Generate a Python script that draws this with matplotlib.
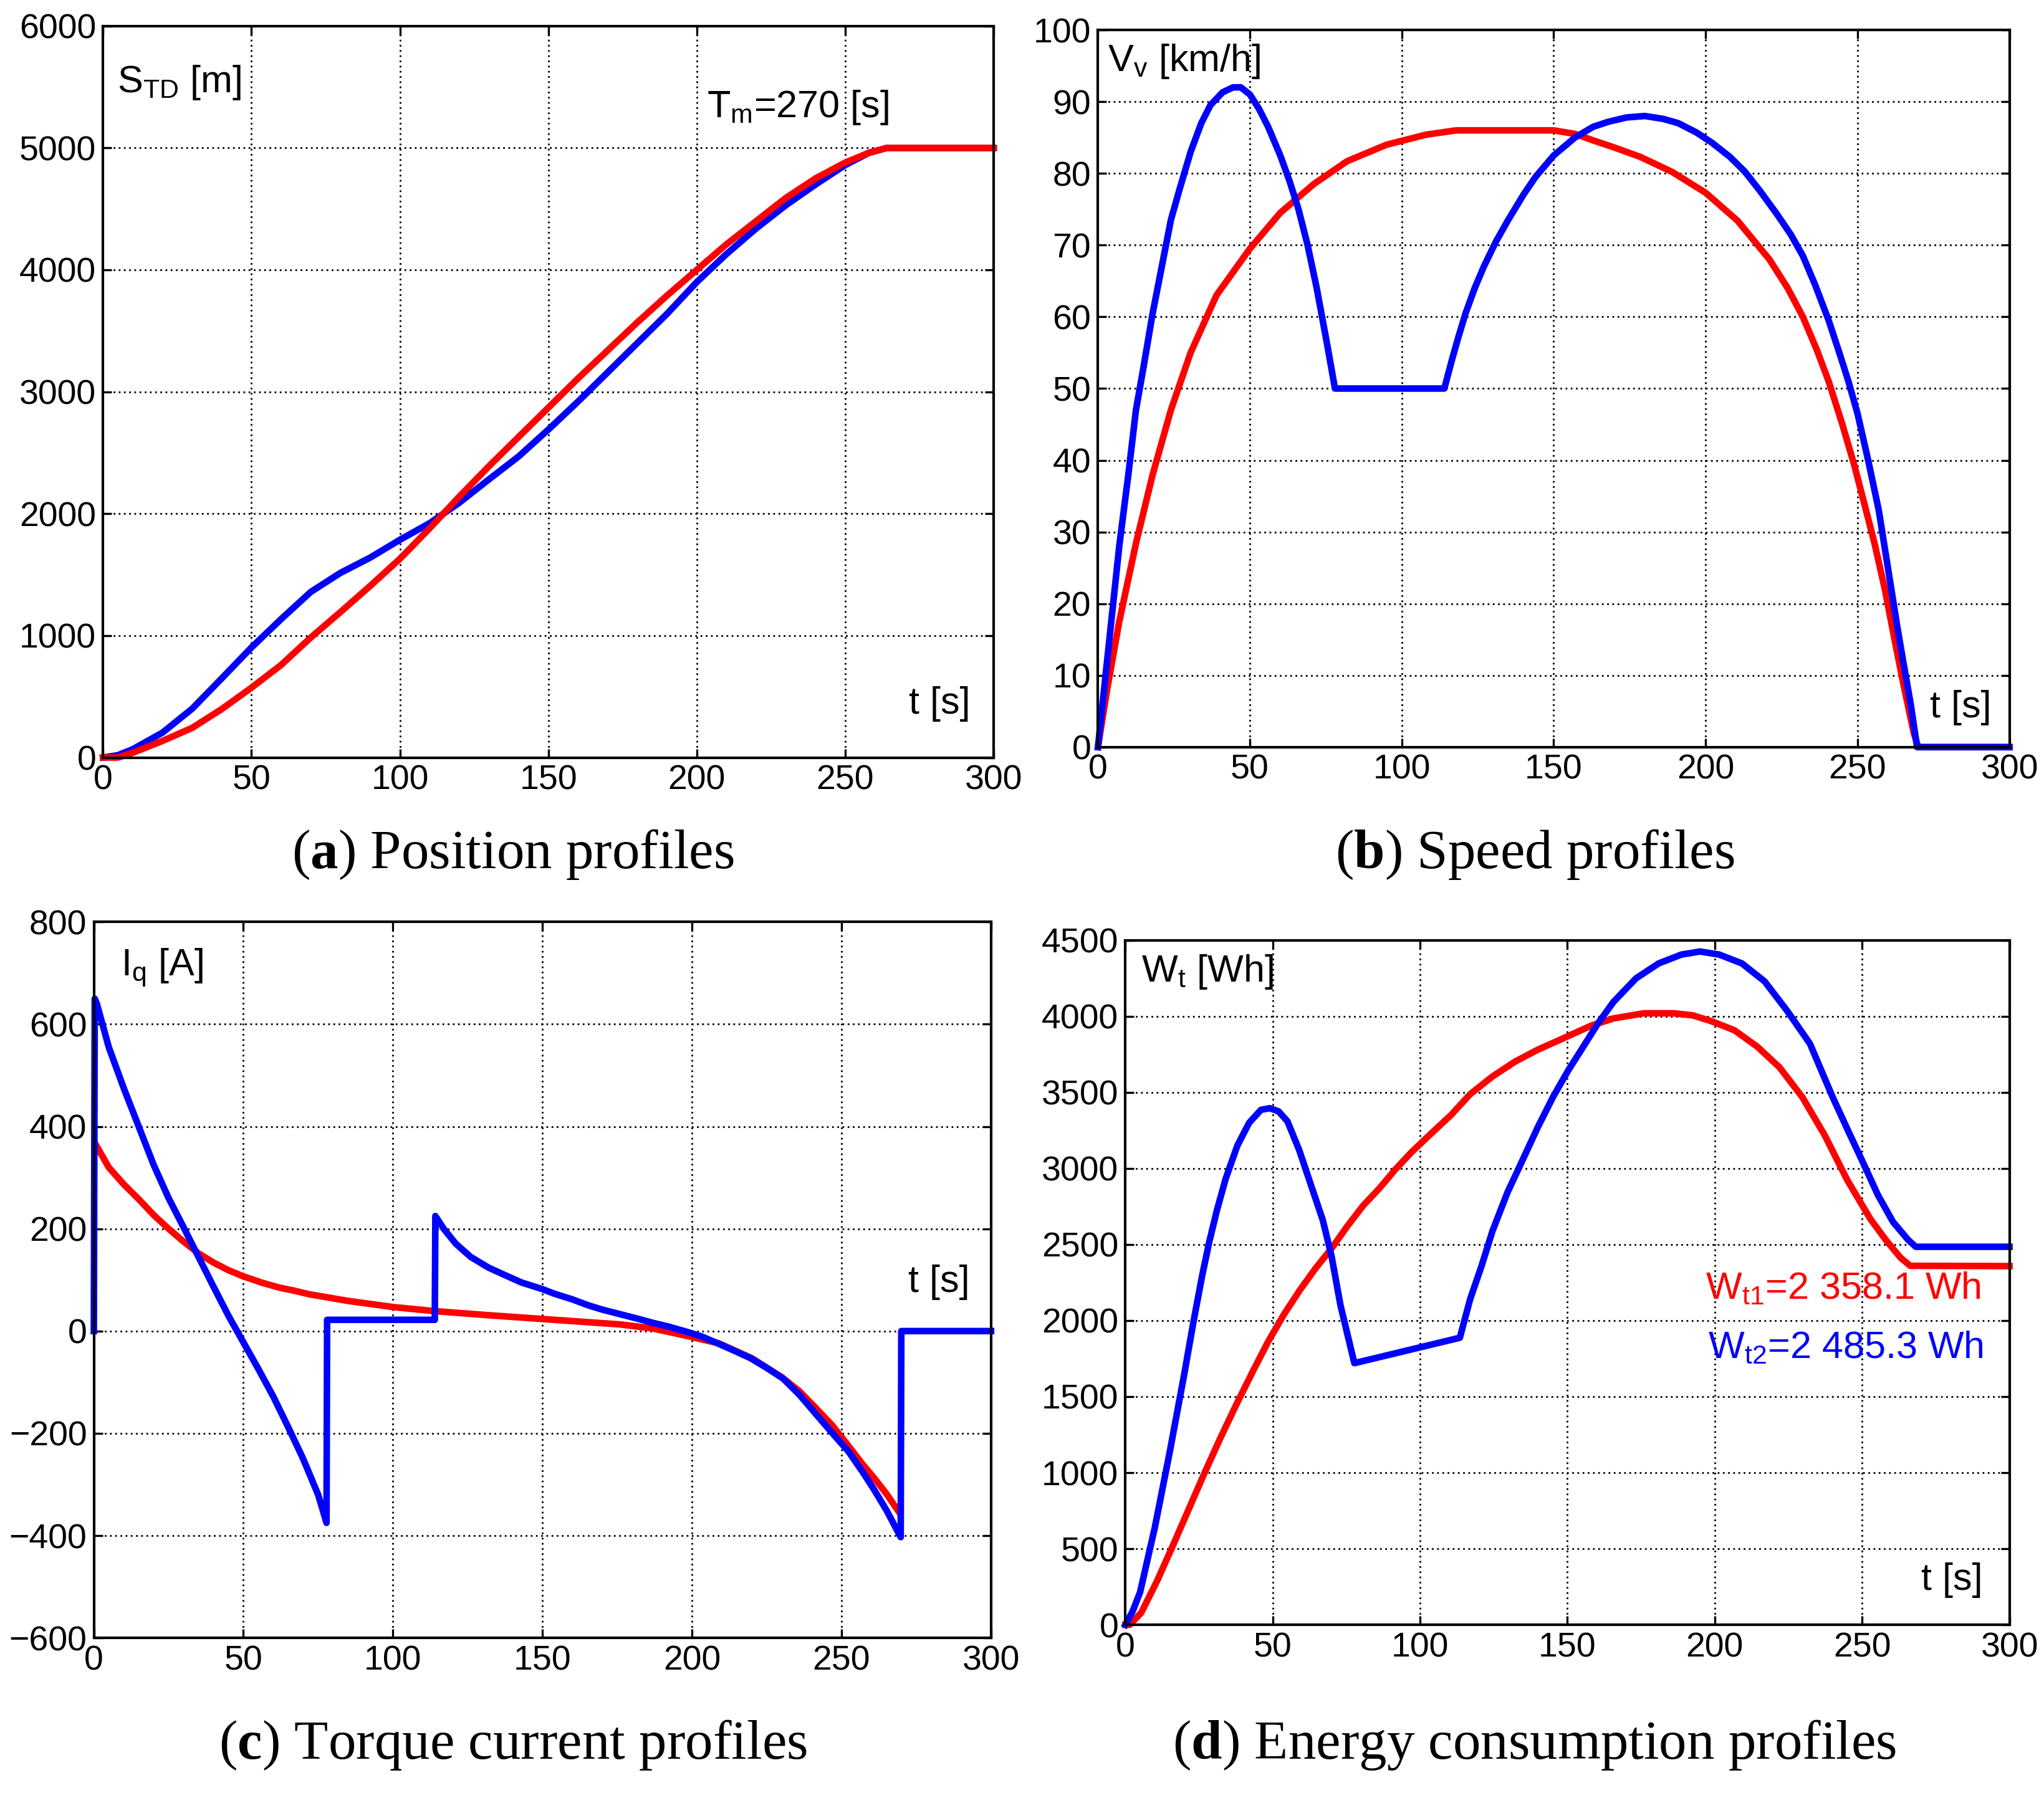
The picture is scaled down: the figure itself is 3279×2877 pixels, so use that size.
import matplotlib
matplotlib.use("Agg")
import matplotlib.pyplot as plt

plt.rcParams["font.family"] = ["Liberation Sans", "DejaVu Sans"]
plt.rcParams["mathtext.fontset"] = "custom"
plt.rcParams["mathtext.rm"] = "Liberation Sans"
plt.rcParams["mathtext.bf"] = "Liberation Serif:bold"

RED = "#ff0000"
BLUE = "#0000ff"

# (a) position profiles
t_pos = [0, 5, 10, 20, 30, 40, 50, 60, 70, 80, 90, 100, 110, 120, 130, 140, 150,
         160, 170, 180, 190, 200, 210, 220, 230, 240, 250, 258, 264, 300]
pos_red = [0, 0, 39, 136, 243, 398, 573, 760, 985, 1194, 1408, 1630, 1880, 2140, 2390,
           2630, 2870, 3110, 3340, 3570, 3790, 4000, 4210, 4400, 4590, 4750, 4880, 4960, 5000, 5000]
pos_blue = [0, 19, 68, 204, 400, 650, 903, 1136, 1359, 1515, 1640, 1786, 1922, 2090, 2282,
            2470, 2690, 2920, 3160, 3400, 3640, 3900, 4130, 4340, 4530, 4700, 4860, 4960, 5000, 5000]

# (b) speed profiles
t_spd_red = [0, 3, 7, 12.5, 18, 24, 30.5, 39, 50, 60, 71, 82, 95, 108, 118, 150, 157, 163,
             170, 178.5, 189, 200, 210.5, 221, 227, 232, 236.5, 240.5, 245, 249, 252.5,
             255.6, 259, 262, 265, 268.5, 270, 300]
spd_red = [0, 8, 17.5, 28.4, 38, 47, 55, 63, 69.5, 74.5, 78.5, 81.7, 84, 85.4, 86, 86, 85.5,
           84.6, 83.6, 82.3, 80.2, 77.3, 73.4, 68, 64, 60, 55.5, 51, 45, 39.2, 33.5, 28.4,
           22, 15.4, 9, 2, 0, 0]
t_spd_blue = [0, 2, 4, 7, 10, 12.5, 15, 18, 21, 24, 27, 30.5, 34, 37, 41, 44.5, 47, 50, 53,
              56, 60, 63, 66, 69, 72, 75.5, 78, 114, 116.5, 118.5, 121, 124, 127, 131, 135,
              140, 144, 150, 157, 163, 168, 174, 180, 186, 191, 197, 202, 208, 213, 218,
              223.5, 228, 232, 236, 240.5, 244, 247, 250, 253.5, 257, 260, 263, 265, 267.5,
              269.6, 300]
spd_blue = [0, 8, 16, 28, 38, 47, 53, 60.5, 67, 73.5, 78, 83, 87, 89.5, 91.3, 92, 92, 91, 89,
            86.5, 82.5, 79, 75, 70, 64, 56, 50, 50, 54, 57, 60.5, 64, 67, 70.5, 73.5, 77,
            79.5, 82.5, 85, 86.5, 87.2, 87.8, 88, 87.6, 87, 85.7, 84.3, 82.3, 80.2, 77.5,
            74.3, 71.5, 68.5, 64.5, 59.5, 55, 51, 46.5, 40, 33, 25, 17, 12, 6, 0, 0]

# (c) torque current profiles
t_iq_red = [0.5, 5, 10, 15, 20, 25, 30, 35, 40, 45, 50, 56, 62, 67, 72, 78, 85, 90, 100,
            114, 132, 154, 176, 187, 198, 209, 220, 230, 236, 241, 247, 252, 257, 261, 265, 269]
iq_red = [366, 320, 287, 258, 227, 200, 175, 152, 134, 119, 107, 95, 85, 79, 72, 66, 59, 55,
          47, 39, 31, 22, 13, 5, -9, -24, -53, -90, -118, -148, -185, -222, -260, -288, -318, -352]
t_iq_blue = [0, 0.3, 1, 5, 10, 15, 20, 25, 30, 35, 40, 45, 50, 55, 60, 65, 70, 75, 77.8, 78,
             114, 114.2, 117, 121, 126, 132, 138, 143, 150, 154, 160, 165, 170, 176, 182,
             187, 192, 198, 203, 208.6, 214, 219.6, 225, 230.5, 236, 241.4, 247, 252.4, 257,
             261, 265, 269.8, 270, 300]
iq_blue = [0, 650, 640, 555, 475, 400, 325, 260, 203, 145, 87, 30, -22, -74, -128, -188,
           -250, -320, -375, 22, 22, 225, 200, 171, 145, 124, 108, 95, 82, 73, 62, 51, 42, 33,
           24, 16, 9, -1, -10, -24, -38, -53, -72, -93, -125, -162, -200, -236, -275, -311,
           -350, -403, 0, 0]

# (d) energy consumption profiles
t_w_red = [0, 1.5, 5.4, 10.8, 16.1, 21.5, 26.9, 32.3, 37.7, 43.1, 48.4, 53.8, 59.2, 64.6, 70,
           75.3, 80.7, 86.1, 91.5, 96.9, 104, 110.5, 117, 124.6, 132.3, 140, 149, 158, 165.6,
           176, 186, 192.6, 199, 206.7, 214.4, 222, 229.7, 237.4, 245, 252.8, 258, 263,
           266.3, 300]
w_red = [0, 0, 80, 290, 520, 760, 1000, 1230, 1450, 1660, 1860, 2040, 2200, 2345, 2475, 2620,
         2756, 2867, 2991, 3103, 3234, 3351, 3488, 3605, 3703, 3781, 3859, 3938, 3986, 4020,
         4020, 4006, 3967, 3908, 3801, 3664, 3469, 3215, 2922, 2668, 2531, 2414, 2360, 2358]
t_w_blue = [0, 2.5, 5, 10, 15, 20, 23, 26, 28.5, 31, 34, 38, 42, 46, 49, 52, 55, 59, 63, 67,
            70, 73, 77.7, 113.5, 117, 120.8, 124.6, 129.7, 134.9, 140, 145.1, 150.3, 155.4,
            160.5, 165.6, 173.3, 181, 188.7, 195, 201.5, 209.2, 216.9, 224.6, 232.3, 240,
            245.1, 250.3, 255.4, 260.5, 265.6, 268.2, 300]
w_blue = [0, 90, 215, 640, 1130, 1650, 1980, 2290, 2520, 2720, 2930, 3150, 3300, 3385, 3396,
          3375, 3310, 3120, 2890, 2660, 2420, 2100, 1720, 1887, 2141, 2355, 2590, 2844, 3060,
          3273, 3469, 3645, 3801, 3957, 4094, 4250, 4348, 4406, 4426, 4406, 4348, 4230, 4035,
          3820, 3469, 3254, 3039, 2824, 2648, 2531, 2485, 2485]

x_ticks = [0, 50, 100, 150, 200, 250, 300]

fig = plt.figure(figsize=(16.4, 14.385), dpi=200)

rects = {
    "a": [0.0504, 0.5775, 0.4356, 0.4080],
    "b": [0.5370, 0.5833, 0.4458, 0.4000],
    "c": [0.0459, 0.0865, 0.4388, 0.3993],
    "d": [0.5504, 0.0938, 0.4324, 0.3818],
}


def setup(ax, ylim, yticks):
    ax.set_xlim(0, 300)
    ax.set_ylim(*ylim)
    ax.set_xticks(x_ticks)
    ax.set_yticks(yticks)
    ax.tick_params(direction="in", top=True, right=True, length=5, width=1.2,
                   labelsize=20, pad=4)
    ax.grid(True, color="black", linestyle=(0, (1, 2)), linewidth=1.0)
    for sp in ax.spines.values():
        sp.set_linewidth(1.5)


lw = 3.8
lab = 22

ax = fig.add_axes(rects["a"])
setup(ax, (0, 6000), range(0, 6001, 1000))
ax.plot(t_pos, pos_blue, color=BLUE, lw=lw, clip_on=False)
ax.plot(t_pos, pos_red, color=RED, lw=lw, clip_on=False)
ax.text(0.016, 0.923, r"$\mathregular{S_{TD}}$ [m]", transform=ax.transAxes, fontsize=lab, va="center")
ax.text(0.678, 0.889, r"$\mathregular{T_{m}}$=270 [s]", transform=ax.transAxes, fontsize=lab, va="center")
ax.text(0.905, 0.073, "t [s]", transform=ax.transAxes, fontsize=lab, va="center")

ax = fig.add_axes(rects["b"])
setup(ax, (0, 100), range(0, 101, 10))
ax.plot(t_spd_red, spd_red, color=RED, lw=lw, clip_on=False)
ax.plot(t_spd_blue, spd_blue, color=BLUE, lw=lw, clip_on=False)
ax.text(0.011, 0.956, r"$\mathregular{V_{v}}$ [km/h]", transform=ax.transAxes, fontsize=lab, va="center")
ax.text(0.913, 0.055, "t [s]", transform=ax.transAxes, fontsize=lab, va="center")

ax = fig.add_axes(rects["c"])
setup(ax, (-600, 800), range(-600, 801, 200))
ax.plot(t_iq_red, iq_red, color=RED, lw=lw, clip_on=False)
ax.plot(t_iq_blue, iq_blue, color=BLUE, lw=lw, clip_on=False)
ax.text(0.03, 0.936, r"$\mathregular{I_{q}}$ [A]", transform=ax.transAxes, fontsize=lab, va="center")
ax.text(0.908, 0.497, "t [s]", transform=ax.transAxes, fontsize=lab, va="center")

ax = fig.add_axes(rects["d"])
setup(ax, (0, 4500), range(0, 4501, 500))
ax.plot(t_w_red, w_red, color=RED, lw=lw, clip_on=False)
ax.plot(t_w_blue, w_blue, color=BLUE, lw=lw, clip_on=False)
ax.text(0.018, 0.954, r"$\mathregular{W_{t}}$ [Wh]", transform=ax.transAxes, fontsize=lab, va="center")
ax.text(0.656, 0.491, r"$\mathregular{W_{t1}}$=2 358.1 Wh", transform=ax.transAxes,
        fontsize=lab, va="center", color=RED)
ax.text(0.659, 0.404, r"$\mathregular{W_{t2}}$=2 485.3 Wh", transform=ax.transAxes,
        fontsize=lab, va="center", color=BLUE)
ax.text(0.90, 0.065, "t [s]", transform=ax.transAxes, fontsize=lab, va="center")

captions = [
    (0.251, 0.5236, r"($\mathbf{a}$) Position profiles"),
    (0.7506, 0.5236, r"($\mathbf{b}$) Speed profiles"),
    (0.251, 0.0269, r"($\mathbf{c}$) Torque current profiles"),
    (0.7506, 0.0269, r"($\mathbf{d}$) Energy consumption profiles"),
]
for x, y, s in captions:
    fig.text(x, y, s, ha="center", va="center", fontsize=32, family="Liberation Serif")

fig.savefig("out.png", dpi=200)
